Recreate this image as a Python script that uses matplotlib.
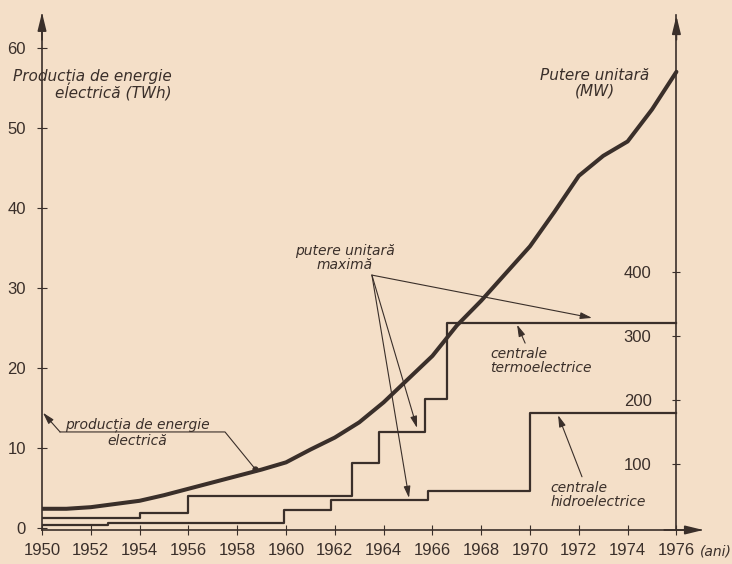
import matplotlib
matplotlib.use('Agg')
from matplotlib import pyplot as plt

# productia de energie electrica (TWh)
years = list(range(1950, 1977))
energy = [2.4, 2.4, 2.6, 3.0, 3.4, 4.1, 4.9, 5.7, 6.5, 7.3, 8.2, 9.8, 11.3,
          13.2, 15.7, 18.6, 21.5, 25.3, 28.4, 31.8, 35.2, 39.5, 44.0, 46.5,
          48.3, 52.3, 57.0]

# putere unitara maxima (MW), trepte
termo_years = [1950, 1954.0, 1956.0, 1962.7, 1963.8, 1965.7, 1966.6, 1976]
termo_mw = [15, 23, 50, 102, 150, 202, 320, 320]
hydro_years = [1950, 1952.7, 1959.9, 1961.85, 1965.8, 1970.0, 1976]
hydro_mw = [4, 8, 28, 44, 58, 180, 180]

year_ticks = list(range(1950, 1977, 2))
energy_ticks = [0, 10, 20, 30, 40, 50, 60]
power_ticks = [100, 200, 300, 400]

paper = '#f4dfc8'
ink = '#3a2f2a'
hand = dict(family='DejaVu Sans', style='italic', color=ink)
narrow = ['Liberation Sans Narrow', 'Liberation Sans', 'DejaVu Sans']

fig = plt.figure(figsize=(7.32, 5.64), dpi=100, facecolor=paper)
ax = fig.add_axes([0.0574, 0.0603, 0.900, 0.9131])
ax.set_facecolor(paper)
ax.set_xlim(1950, 1977)
ax.set_ylim(-0.25, 64.1)

ax2 = ax.twinx()
ax2.set_ylim(-0.25 * 12.5, 64.1 * 12.5)

for s in ['top', 'right']:
    ax.spines[s].set_visible(False)
for s in ['top', 'left', 'bottom']:
    ax2.spines[s].set_visible(False)
ax2.spines['right'].set_position(('data', 1976))
for sp in [ax.spines['left'], ax.spines['bottom'], ax2.spines['right']]:
    sp.set_color(ink)
    sp.set_linewidth(1.2)

ax.set_xticks(year_ticks)
ax.set_xticklabels([str(y) for y in year_ticks], family=narrow, fontsize=12, color=ink)
ax.set_yticks(energy_ticks)
ax.set_yticklabels([str(v) for v in energy_ticks], family=narrow, fontsize=12, color=ink)
ax.tick_params(axis='x', direction='inout', length=7, pad=6, color=ink)
ax.tick_params(axis='y', direction='inout', length=7, pad=8, color=ink)

ax2.set_yticks(power_ticks)
ax2.set_yticklabels([str(v) for v in power_ticks], family=narrow, fontsize=12, color=ink)
ax2.tick_params(axis='y', direction='inout', length=6, pad=-41, color=ink)

# curba productiei si treptele de putere
ax.plot(years, energy, color=ink, lw=2.9, solid_capstyle='round', zorder=3)
ax2.step(termo_years, termo_mw, where='post', color=ink, lw=1.6)
ax2.step(hydro_years, hydro_mw, where='post', color=ink, lw=1.6)

# sagetile axelor
head = dict(arrowstyle='-|>,head_length=0.9,head_width=0.22', color=ink,
            lw=1.2, shrinkA=0, shrinkB=0, mutation_scale=12)
ax.annotate('', xy=(1950, 64.4), xytext=(1950, 61), arrowprops=head, annotation_clip=False)
ax.annotate('', xy=(1976, 64.0), xytext=(1976, 61), arrowprops=head, annotation_clip=False)
ax.annotate('', xy=(1977.1, -0.25), xytext=(1975.5, -0.25), arrowprops=head, annotation_clip=False)

thin = dict(arrowstyle='-|>,head_length=0.7,head_width=0.2', color=ink,
            lw=0.8, shrinkA=0, shrinkB=0, mutation_scale=10)

# texte
ax.text(1955.33, 55.4, 'Producția de energie\nelectrică (TWh)', ha='right', va='center',
        multialignment='right', fontsize=11, linespacing=1.05, clip_on=False, **hand)
ax.text(1972.66, 55.6, 'Putere unitară\n(MW)', ha='center', va='center',
        fontsize=11, linespacing=1.05, **hand)
ax.text(1976.95, -2.9, '(ani)', ha='left', va='center', fontsize=10, **hand)

ax.text(1962.4, 33.75, 'putere unitară\nmaximă', ha='center', va='center',
        fontsize=10, linespacing=0.95, **hand)
origin = (1963.52, 31.6)
for target in [(1972.54, 26.25), (1965.37, 12.5), (1965.04, 3.75)]:
    ax.annotate('', xy=target, xytext=origin, arrowprops=thin)

ax.text(1968.36, 20.9, 'centrale\ntermoelectrice', ha='left', va='center',
        fontsize=10, linespacing=1.0, **hand)
ax.annotate('', xy=(1969.47, 25.4), xytext=(1969.8, 23.1), arrowprops=thin)

ax.text(1970.82, 4.1, 'centrale\nhidroelectrice', ha='left', va='center',
        fontsize=10, linespacing=1.0, **hand)
ax.annotate('', xy=(1971.15, 14.1), xytext=(1972.13, 6.4), arrowprops=thin)

ax.text(1953.9, 11.9, 'producția de energie\nelectrică', ha='center', va='center',
        fontsize=10, linespacing=1.1, **hand)
ax.plot([1950.74, 1957.5, 1958.73], [12.0, 12.0, 7.4], color=ink, lw=0.8)
ax.plot([1958.73], [7.4], 'o', color=ink, ms=3.5)
ax.annotate('', xy=(1950.04, 14.4), xytext=(1950.74, 12.0), arrowprops=thin)

fig.savefig('out.png', dpi=100, facecolor=paper)
